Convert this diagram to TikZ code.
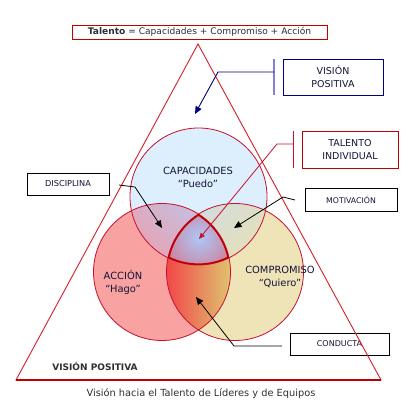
\documentclass[tikz,border=0pt]{standalone}
\usepackage{fontspec}
\setmainfont{DejaVu Sans}
\usetikzlibrary{arrows.meta}
\definecolor{tri}{HTML}{D2202C}
\definecolor{dred}{HTML}{C00000}
\definecolor{navy}{HTML}{000080}
\definecolor{barblue}{HTML}{8080D8}
\definecolor{capfill}{HTML}{DDEFFC}
\definecolor{accfill}{HTML}{F8A2A2}
\definecolor{comfill}{HTML}{EFE4B8}
\definecolor{circline}{HTML}{C8102E}
\definecolor{labtxt}{HTML}{141438}
\definecolor{captxt}{HTML}{303030}
\tikzset{
  circ/.style={draw=circline, line width=0.8pt},
  callbox/.style={draw, line width=0.9pt, fill=white, align=center, inner sep=1pt, text=labtxt},
  smallbox/.style={callbox, draw=black, minimum width=82pt, minimum height=22pt, font=\fontsize{8}{9}\selectfont},
  bigbox/.style={callbox, minimum width=100pt, minimum height=36pt, font=\fontsize{9.5}{13}\selectfont},
  blackarrow/.style={draw=black, line width=0.8pt, -{Triangle[length=7.5pt,width=6.5pt]}},
  circlab/.style={align=center, text=labtxt, font=\fontsize{9.9}{13}\selectfont}
}
\begin{document}
\begin{tikzpicture}[x=1pt,y=-1pt]
\useasboundingbox (0,0) rectangle (415,415);
\fill[white] (0,0) rectangle (415,415);
\coordinate (cT) at (198.5,196.5);
\coordinate (cL) at (162,272);
\coordinate (cR) at (235,272);
\def\R{68.5pt}
% base fills
\fill[capfill] (cT) circle[radius=\R];
\fill[accfill] (cL) circle[radius=\R];
\fill[comfill] (cR) circle[radius=\R];
% lens top-left
\begin{scope}
\clip (cT) circle[radius=\R];
\clip (cL) circle[radius=\R];
\shade[top color={rgb,255:red,190;green,198;blue,238}, bottom color={rgb,255:red,236;green,158;blue,170}, shading angle=-45] (120,195) rectangle (240,275);
\end{scope}
% lens top-right
\begin{scope}
\clip (cT) circle[radius=\R];
\clip (cR) circle[radius=\R];
\shade[top color={rgb,255:red,206;green,220;blue,232}, bottom color={rgb,255:red,232;green,224;blue,178}, shading angle=45] (160,195) rectangle (275,275);
\end{scope}
% lens left-right
\begin{scope}
\clip (cL) circle[radius=\R];
\clip (cR) circle[radius=\R];
\shade[left color={rgb,255:red,242;green,70;blue,72}, middle color={rgb,255:red,238;green,150;blue,100}, right color={rgb,255:red,222;green,198;blue,112}] (166,200) rectangle (232,345);
\end{scope}
% center
\begin{scope}
\clip (cT) circle[radius=\R];
\clip (cL) circle[radius=\R];
\clip (cR) circle[radius=\R];
\shade[inner color={rgb,255:red,172;green,200;blue,248}, outer color={rgb,255:red,234;green,72;blue,84}] (199,238) circle[radius=64pt];
\end{scope}
% outlines
\draw[circ] (cT) circle[radius=\R];
\draw[circ] (cL) circle[radius=\R];
\draw[circ] (cR) circle[radius=\R];
\begin{scope}
\clip (cT) circle[radius=\R];
\clip (cL) circle[radius=\R];
\clip (cR) circle[radius=\R];
\draw[draw=dred, line width=3.2pt] (cT) circle[radius=\R];
\draw[draw=dred, line width=3.2pt] (cL) circle[radius=\R];
\draw[draw=dred, line width=3.2pt] (cR) circle[radius=\R];
\end{scope}
% circle labels
\node[circlab] (lcap) at (198,177) {CAPACIDADES\\“Puedo”};
\node[circlab] (lacc) at (123,282) {ACCIÓN\\“Hago”};
\node[circlab] (lcom) at (280,277) {COMPROMISO\\“Quiero”};
% top equation box
\node[draw=dred, line width=0.9pt, minimum width=255pt, minimum height=14pt, inner sep=0pt, text=captxt, font=\fontsize{9.1}{10}\selectfont] (eq) at (199.5,32) {\textbf{Talento} = Capacidades + Compromiso + Acción};
% callout boxes
\node[bigbox, draw=navy] (vis) at (333,77) {VISIÓN\\POSITIVA};
\node[bigbox, draw=dred, minimum width=96pt, minimum height=37pt] (tal) at (350,149.5) {TALENTO\\INDIVIDUAL};
\node[smallbox, font=\fontsize{8.2}{9}\selectfont] (dis) at (68,184) {DISCIPLINA};
\node[smallbox, minimum width=92pt, minimum height=23pt, font=\fontsize{7.8}{9}\selectfont] (mot) at (351,199.5) {MOTIVACIÓN};
\node[smallbox, minimum width=99pt] (con) at (339.5,344) {CONDUCTA};
% triangle
\coordinate (tA) at (198,44);
\coordinate (tR) at (381,380);
\coordinate (tL) at (16,380);
\draw[tri, line width=0.9pt] (tA) -- (tR) -- (tL) -- cycle;
\draw[dred, line width=1.2pt] (tL) -- (tR);
% vision callout
\coordinate (visbT) at (274,59);
\coordinate (visbB) at (274,95);
\coordinate (visM) at (274,72);
\coordinate (visE) at (218,72);
\coordinate (visTip) at (195,114);
\draw[barblue, line width=2pt] (visbT) -- (visbB);
\draw[navy, line width=0.9pt, -{Triangle[length=7.5pt,width=6.5pt]}] (visM) -- (visE) -- (visTip);
% talento callout
\coordinate (talbT) at (293,131);
\coordinate (talbB) at (293,168);
\coordinate (talM) at (293,144);
\coordinate (talE) at (277,144);
\coordinate (talTip) at (199,239);
\draw[circline, line width=0.8pt] (talbT) -- (talbB);
\draw[circline, line width=0.8pt, -{Triangle[length=6pt,width=5pt]}] (talM) -- (talE) -- (talTip);
% disciplina
\coordinate (disS) at (119,185);
\coordinate (disE) at (135,187);
\coordinate (disTip) at (162,228);
\draw[blackarrow] (disS) -- (disE) -- (disTip);
% motivacion
\coordinate (motS) at (295,200);
\coordinate (motE) at (283,197);
\coordinate (motTip) at (234,228);
\draw[blackarrow] (motS) -- (motE) -- (motTip);
% conducta
\coordinate (conS) at (282,346);
\coordinate (conE) at (234,346);
\coordinate (conTip) at (196,297);
\draw[blackarrow] (conS) -- (conE) -- (conTip);
% bottom texts
\node[text=captxt, font=\bfseries\fontsize{9}{10}\selectfont] (vp) at (95,366) {VISIÓN POSITIVA};
\node[text=captxt, font=\fontsize{9.8}{10}\selectfont] (cap) at (201,394) {Visión hacia el Talento de Líderes y de Equipos};
\end{tikzpicture}
\end{document}
